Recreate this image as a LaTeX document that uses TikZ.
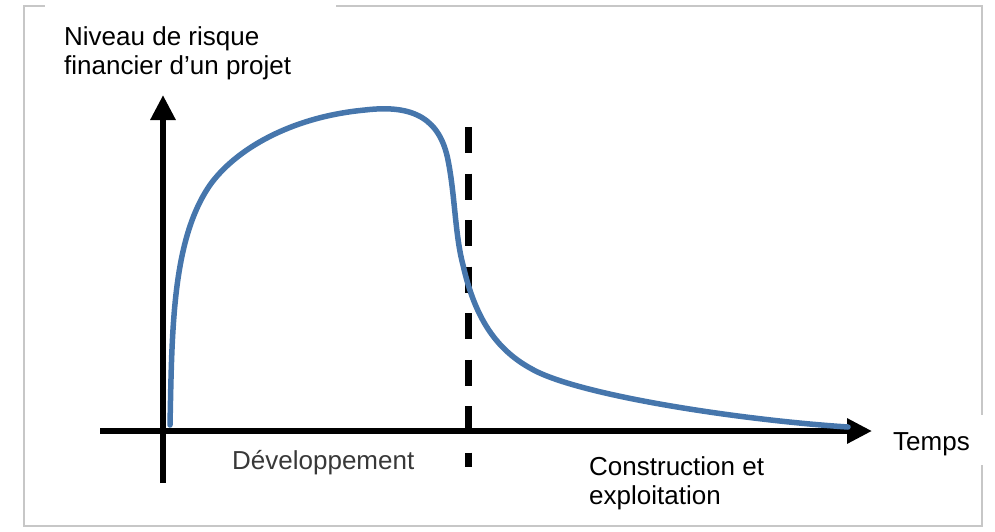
\documentclass[tikz,border=0pt]{standalone}
\usepackage{fontspec}
\setmainfont{Liberation Sans}
\usetikzlibrary{arrows.meta}
\definecolor{riskblue}{RGB}{70,118,172}
\tikzset{
AXIS/.style ={draw=black,line cap=butt,line width=6pt,-{Triangle[length=25pt,width=24pt]}},
CURVE/.style ={draw=riskblue,line cap=round,line join=round,line width=5.5pt},
PHASE/.style ={draw=black,line cap=butt,line width=7pt,dash pattern=on 26pt off 20.5pt},
FRAME/.style ={draw=black!22,line width=2.5pt},
LABEL/.style={inner sep=0pt,font=\fontsize{26}{29}\selectfont,align=left},
}

\begin{document}
\begin{tikzpicture} %risque financier
[x=1pt, y=-1pt]
	\useasboundingbox (0,0) rectangle (995,531);
	\path[FRAME] (336,6) -- (982,6) -- (982,415) (982,465) -- (982,526) -- (24,526) -- (24,6) -- (45,6);
	\coordinate (ybot) at (163,483);
	\coordinate (ytop) at (163,95);
	\coordinate (xleft) at (100,431);
	\coordinate (xright) at (872,431);
	\coordinate (dtop) at (468,127);
	\coordinate (dbot) at (468,467);
	\path[AXIS] (ybot) -- (ytop);
	\path[AXIS] (xleft) -- (xright);
	\path[PHASE] (dtop) -- (dbot);
	\path[CURVE] (170,425) .. controls (172,330) and (172,240) .. (210,185)
		.. controls (235,150) and (290,117) .. (365,110)
		.. controls (415,104) and (440,120) .. (448,160)
		.. controls (455,195) and (455,235) .. (463,265)
		.. controls (475,318) and (496,349) .. (530,368)
		.. controls (575,395) and (740,420) .. (848,427);
	% base of a two-line label = last line
	\node[LABEL,anchor=base west] (level) at (64,74.4) {Niveau de risque\\financier d’un projet};
	\node[LABEL,anchor=base west] (time) at (893,450) {Temps};
	\node[LABEL,anchor=base west] (build) at (589,504) {Construction et\\exploitation};
	\node[LABEL,anchor=base west,text=black!78] (dev) at (232,469) {Développement};
\end{tikzpicture}
\end{document}
